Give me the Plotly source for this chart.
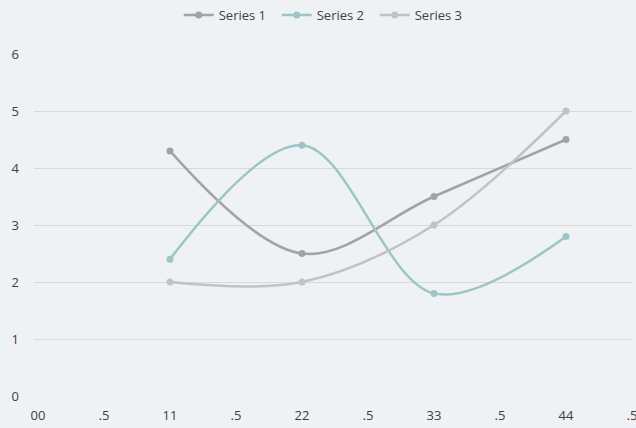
import plotly.graph_objects as go

x_vals = [1, 2, 3, 4]
series1 = [4.3, 2.5, 3.5, 4.5]
series2 = [2.4, 4.4, 1.8, 2.8]
series3 = [2.0, 2.0, 3.0, 5.0]
names = ["Series 1", "Series 2", "Series 3"]
colors = ["#A3A3A3", "#9EC4C6", "#C2C2C2"]
tick_vals = [0, 0.5, 1, 1.5, 2, 2.5, 3, 3.5, 4, 4.5]
tick_text = ["00", ".5", "11", ".5", "22", ".5", "33", ".5", "44", ".5"]

fig = go.Figure()
for name, ys, c in zip(names, [series1, series2, series3], colors):
    fig.add_trace(go.Scatter(
        x=x_vals, y=ys, name=name, mode="lines+markers",
        line=dict(color=c, width=2.5, shape="spline", smoothing=1.0),
        marker=dict(color=c, size=7),
    ))

fig.update_layout(
    width=636, height=428,
    paper_bgcolor="#EEF2F5", plot_bgcolor="#EEF2F5",
    margin=dict(l=34, r=4, t=54, b=32, autoexpand=False),
    font=dict(family="Open Sans", size=13, color="#404040"),
    showlegend=True,
    legend=dict(orientation="h", xref="container", yref="container",
                x=0.281, xanchor="left", y=1.0, yanchor="top",
                font=dict(size=13, color="#404040"),
                entrywidth=53, entrywidthmode="pixels",
                bgcolor="rgba(0,0,0,0)"),
    xaxis=dict(range=[-0.03, 4.5], tickvals=tick_vals, ticktext=tick_text,
               showgrid=False, zeroline=False, showline=False, ticks="",
               ticklabeloverflow="allow", ticklabelstandoff=10, automargin=False),
    yaxis=dict(range=[0, 6], dtick=1, showgrid=True, gridcolor="#D9D9D9",
               gridwidth=1, zeroline=False, showline=False, ticks="",
               ticklabelstandoff=14, automargin=False),
)
fig.write_html("out.html", config={"displayModeBar": False},
               post_script="document.body.style.margin='0';document.body.style.overflow='hidden';")
